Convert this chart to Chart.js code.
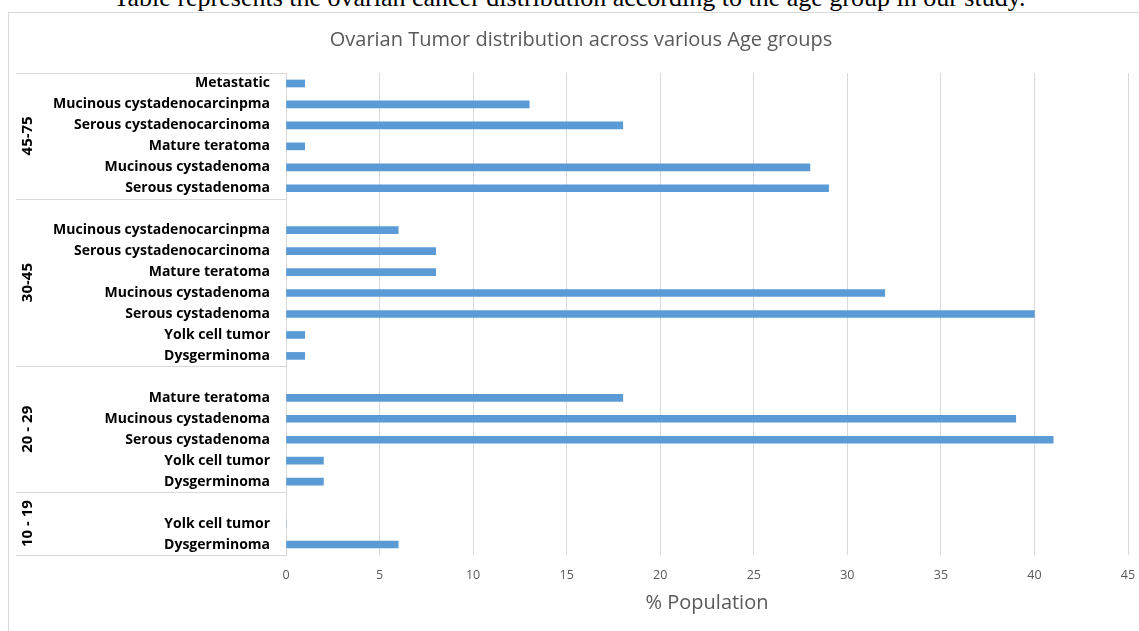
<!DOCTYPE html>
<html>
<head>
<meta charset="utf-8">
<script src="https://cdn.jsdelivr.net/npm/chart.js@4.4.1/dist/chart.umd.min.js"></script>
<style>
  html, body { margin: 0; padding: 0; background: #fff; overflow: hidden; }
  #wrap { position: relative; width: 1139px; height: 631px; overflow: hidden; }
  #frame { position: absolute; left: 8px; top: 12px; width: 1300px; height: 800px;
           border-left: 1px solid #d9d9d9; border-top: 1px solid #d9d9d9; }
  #caption { position: absolute; left: 0; top: -17px; width: 1139px; text-align: center;
             font: 26px "Liberation Serif", "DejaVu Serif", serif; color: #000; white-space: nowrap; }
  #c { position: absolute; left: 0; top: 0; }
</style>
</head>
<body>
<div id="wrap">
  <div id="caption">Table represents the ovarian cancer distribution according to the age group in our study.</div>
  <div id="frame"></div>
  <canvas id="c" width="1139" height="631"></canvas>
</div>
<script>
// Age groups, top to bottom, with the tumour types listed in each group
// ('' marks the empty spacer row that opens a group).
const ageGroups = ['45-75', '30-45', '20 - 29', '10 - 19'];

const types45to75 = ['Metastatic', 'Mucinous cystadenocarcinpma', 'Serous cystadenocarcinoma',
                     'Mature teratoma', 'Mucinous cystadenoma', 'Serous cystadenoma'];
const pct45to75   = [1, 13, 18, 1, 28, 29];

const types30to45 = ['', 'Mucinous cystadenocarcinpma', 'Serous cystadenocarcinoma', 'Mature teratoma',
                     'Mucinous cystadenoma', 'Serous cystadenoma', 'Yolk cell tumor', 'Dysgerminoma'];
const pct30to45   = [null, 6, 8, 8, 32, 40, 1, 1];

const types20to29 = ['', 'Mature teratoma', 'Mucinous cystadenoma', 'Serous cystadenoma',
                     'Yolk cell tumor', 'Dysgerminoma'];
const pct20to29   = [null, 18, 39, 41, 2, 2];

const types10to19 = ['', 'Yolk cell tumor', 'Dysgerminoma'];
const pct10to19   = [null, 0, 6];

const xTickValues = [0, 5, 10, 15, 20, 25, 30, 35, 40, 45];

const groupTypes = [types45to75, types30to45, types20to29, types10to19];
const groupPct   = [pct45to75, pct30to45, pct20to29, pct10to19];

const rowLabels = [].concat(...groupTypes);
const rowValues = [].concat(...groupPct);
const groupSizes = groupTypes.map(g => g.length);

const FONT = '"Open Sans", "Noto Sans", sans-serif';
const GRID = '#d9d9d9';
const TEXT_GRAY = '#595959';

// Second-level category axis: boxed age-group bands drawn left of the tumour labels.
const ageGroupAxis = {
  id: 'ageGroupAxis',
  afterDraw(chart) {
    const y = chart.scales.y;
    const ctx = chart.ctx;
    const lineLeft = 16;
    const lineRight = y.right;
    ctx.save();
    ctx.strokeStyle = GRID;
    ctx.lineWidth = 1;
    let start = 0;
    const edges = [y.getPixelForValue(-0.5)];
    groupSizes.forEach((n, gi) => {
      const top = y.getPixelForValue(start - 0.5);
      const bottom = y.getPixelForValue(start + n - 0.5);
      edges.push(bottom);
      // rotated group label
      ctx.save();
      ctx.translate(28, (top + bottom) / 2);
      ctx.rotate(-Math.PI / 2);
      ctx.fillStyle = '#000';
      ctx.font = 'bold 15px ' + FONT;
      ctx.textAlign = 'center';
      ctx.textBaseline = 'middle';
      ctx.fillText(ageGroups[gi], 0, 0);
      ctx.restore();
      start += n;
    });
    edges.forEach(e => {
      const py = Math.round(e) + 0.5;
      ctx.beginPath();
      ctx.moveTo(lineLeft, py);
      ctx.lineTo(lineRight, py);
      ctx.stroke();
    });
    ctx.restore();
  }
};

new Chart(document.getElementById('c'), {
  type: 'bar',
  data: {
    labels: rowLabels,
    datasets: [{
      data: rowValues,
      backgroundColor: '#5B9BD5',
      borderWidth: 0,
      barThickness: 7
    }]
  },
  plugins: [ageGroupAxis],
  options: {
    indexAxis: 'y',
    responsive: false,
    devicePixelRatio: 1,
    animation: false,
    layout: { padding: { left: 34, right: 11, top: 0, bottom: 0 } },
    plugins: {
      legend: { display: false },
      tooltip: { enabled: false },
      title: {
        display: true,
        text: 'Ovarian Tumor distribution across various Age groups',
        color: TEXT_GRAY,
        font: { family: FONT, size: 20, weight: 'normal' },
        padding: { top: 28, bottom: 21 }
      }
    },
    scales: {
      x: {
        type: 'linear',
        min: 0,
        max: 45,
        afterBuildTicks(scale) { scale.ticks = xTickValues.map(v => ({ value: v })); },
        ticks: { color: TEXT_GRAY, font: { family: FONT, size: 12.5 }, padding: 13 },
        grid: { color: GRID, lineWidth: 1, drawTicks: false },
        border: { display: false },
        title: {
          display: true,
          text: '% Population',
          color: TEXT_GRAY,
          font: { family: FONT, size: 20 },
          padding: { top: 4, bottom: 16 }
        },
        afterFit(scale) {
          scale.height = 76;
          scale.paddingRight = 0;
          scale.paddingLeft = 0;
        }
      },
      y: {
        type: 'category',
        grid: { display: false, drawTicks: false },
        border: { display: true, color: GRID, width: 1 },
        ticks: {
          autoSkip: false,
          color: '#000',
          font: { family: FONT, size: 14, weight: 'bold' },
          padding: 16
        },
        afterFit(scale) { scale.width = 252; }
      }
    }
  }
});
</script>
</body>
</html>
